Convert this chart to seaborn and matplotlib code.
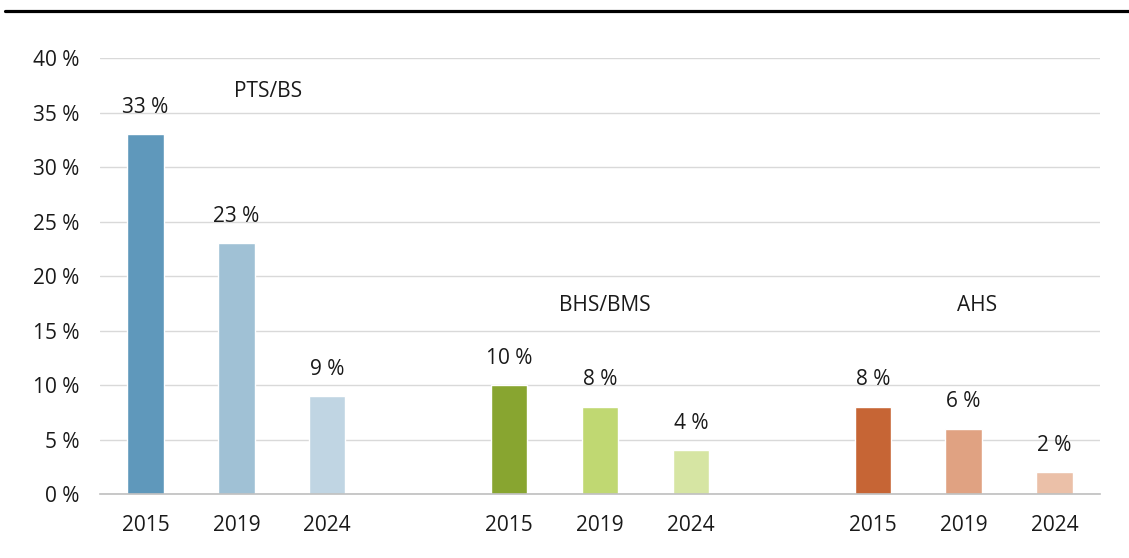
import numpy as np
import pandas as pd
import matplotlib
matplotlib.use("Agg")
import matplotlib.pyplot as plt
import seaborn as sns
from matplotlib.lines import Line2D

groups = ["PTS/BS", "BHS/BMS", "AHS"]
years = ["2015", "2019", "2024"]
pts_values = [33, 23, 9]
bhs_values = [10, 8, 4]
ahs_values = [8, 6, 2]
colors = ["#5f98bb", "#a0c1d5", "#c0d5e3",
          "#88a530", "#c0d872", "#d6e5a3",
          "#c66535", "#e0a282", "#ebc0a8"]

rows = []
for g, vals in enumerate([pts_values, bhs_values, ahs_values]):
    for i, v in enumerate(vals):
        rows.append({"pos": g * 4 + i, "year": years[i], "group": groups[g], "value": v})
df = pd.DataFrame(rows)
df["key"] = df["group"] + " " + df["year"]

sns.set_style("white")
plt.rcParams["font.family"] = ["Open Sans", "DejaVu Sans"]
fs = 15
tc = "#1a1a1a"

fig = plt.figure(figsize=(11.29, 5.58), dpi=100)
ax = fig.add_axes([0.0886, 0.1147, 0.8857, 0.7813])

sns.barplot(data=df, x="pos", y="value", hue="key", palette=colors,
            native_scale=True, width=0.4, legend=False, dodge=False,
            saturation=1, ax=ax)

for _, r in df.iterrows():
    ax.text(r["pos"], r["value"] + 1.5, f"{r['value']} %", ha="center", va="bottom",
            fontsize=fs, color=tc)

# group labels
ax.text(1.35, 36.9, groups[0], ha="center", va="center", fontsize=fs, color=tc)
ax.text(5.05, 17.3, groups[1], ha="center", va="center", fontsize=fs, color=tc)
ax.text(9.15, 17.3, groups[2], ha="center", va="center", fontsize=fs, color=tc)

ax.set_xlim(-0.5, 10.5)
ax.set_ylim(0, 40)
ax.set_yticks(range(0, 41, 5))
ax.set_yticklabels([f"{v} %" for v in range(0, 41, 5)])
ax.set_xticks(df["pos"])
ax.set_xticklabels(df["year"])
ax.tick_params(axis="y", length=0, pad=15, labelsize=fs, labelcolor=tc)
ax.tick_params(axis="x", length=0, pad=15, labelsize=fs, labelcolor=tc)
ax.set_xlabel("")
ax.set_ylabel("")
ax.yaxis.grid(True, color="#d9d9d9", linewidth=1)
ax.set_axisbelow(True)
for s in ["top", "right", "left"]:
    ax.spines[s].set_visible(False)
ax.spines["bottom"].set_color("#bfbfbf")
ax.spines["bottom"].set_linewidth(1.2)
ax.spines["bottom"].set_zorder(5)

fig.add_artist(Line2D([0.004, 1.0], [0.980, 0.980], color="black", linewidth=2.3))

fig.savefig("out.png", dpi=100)
